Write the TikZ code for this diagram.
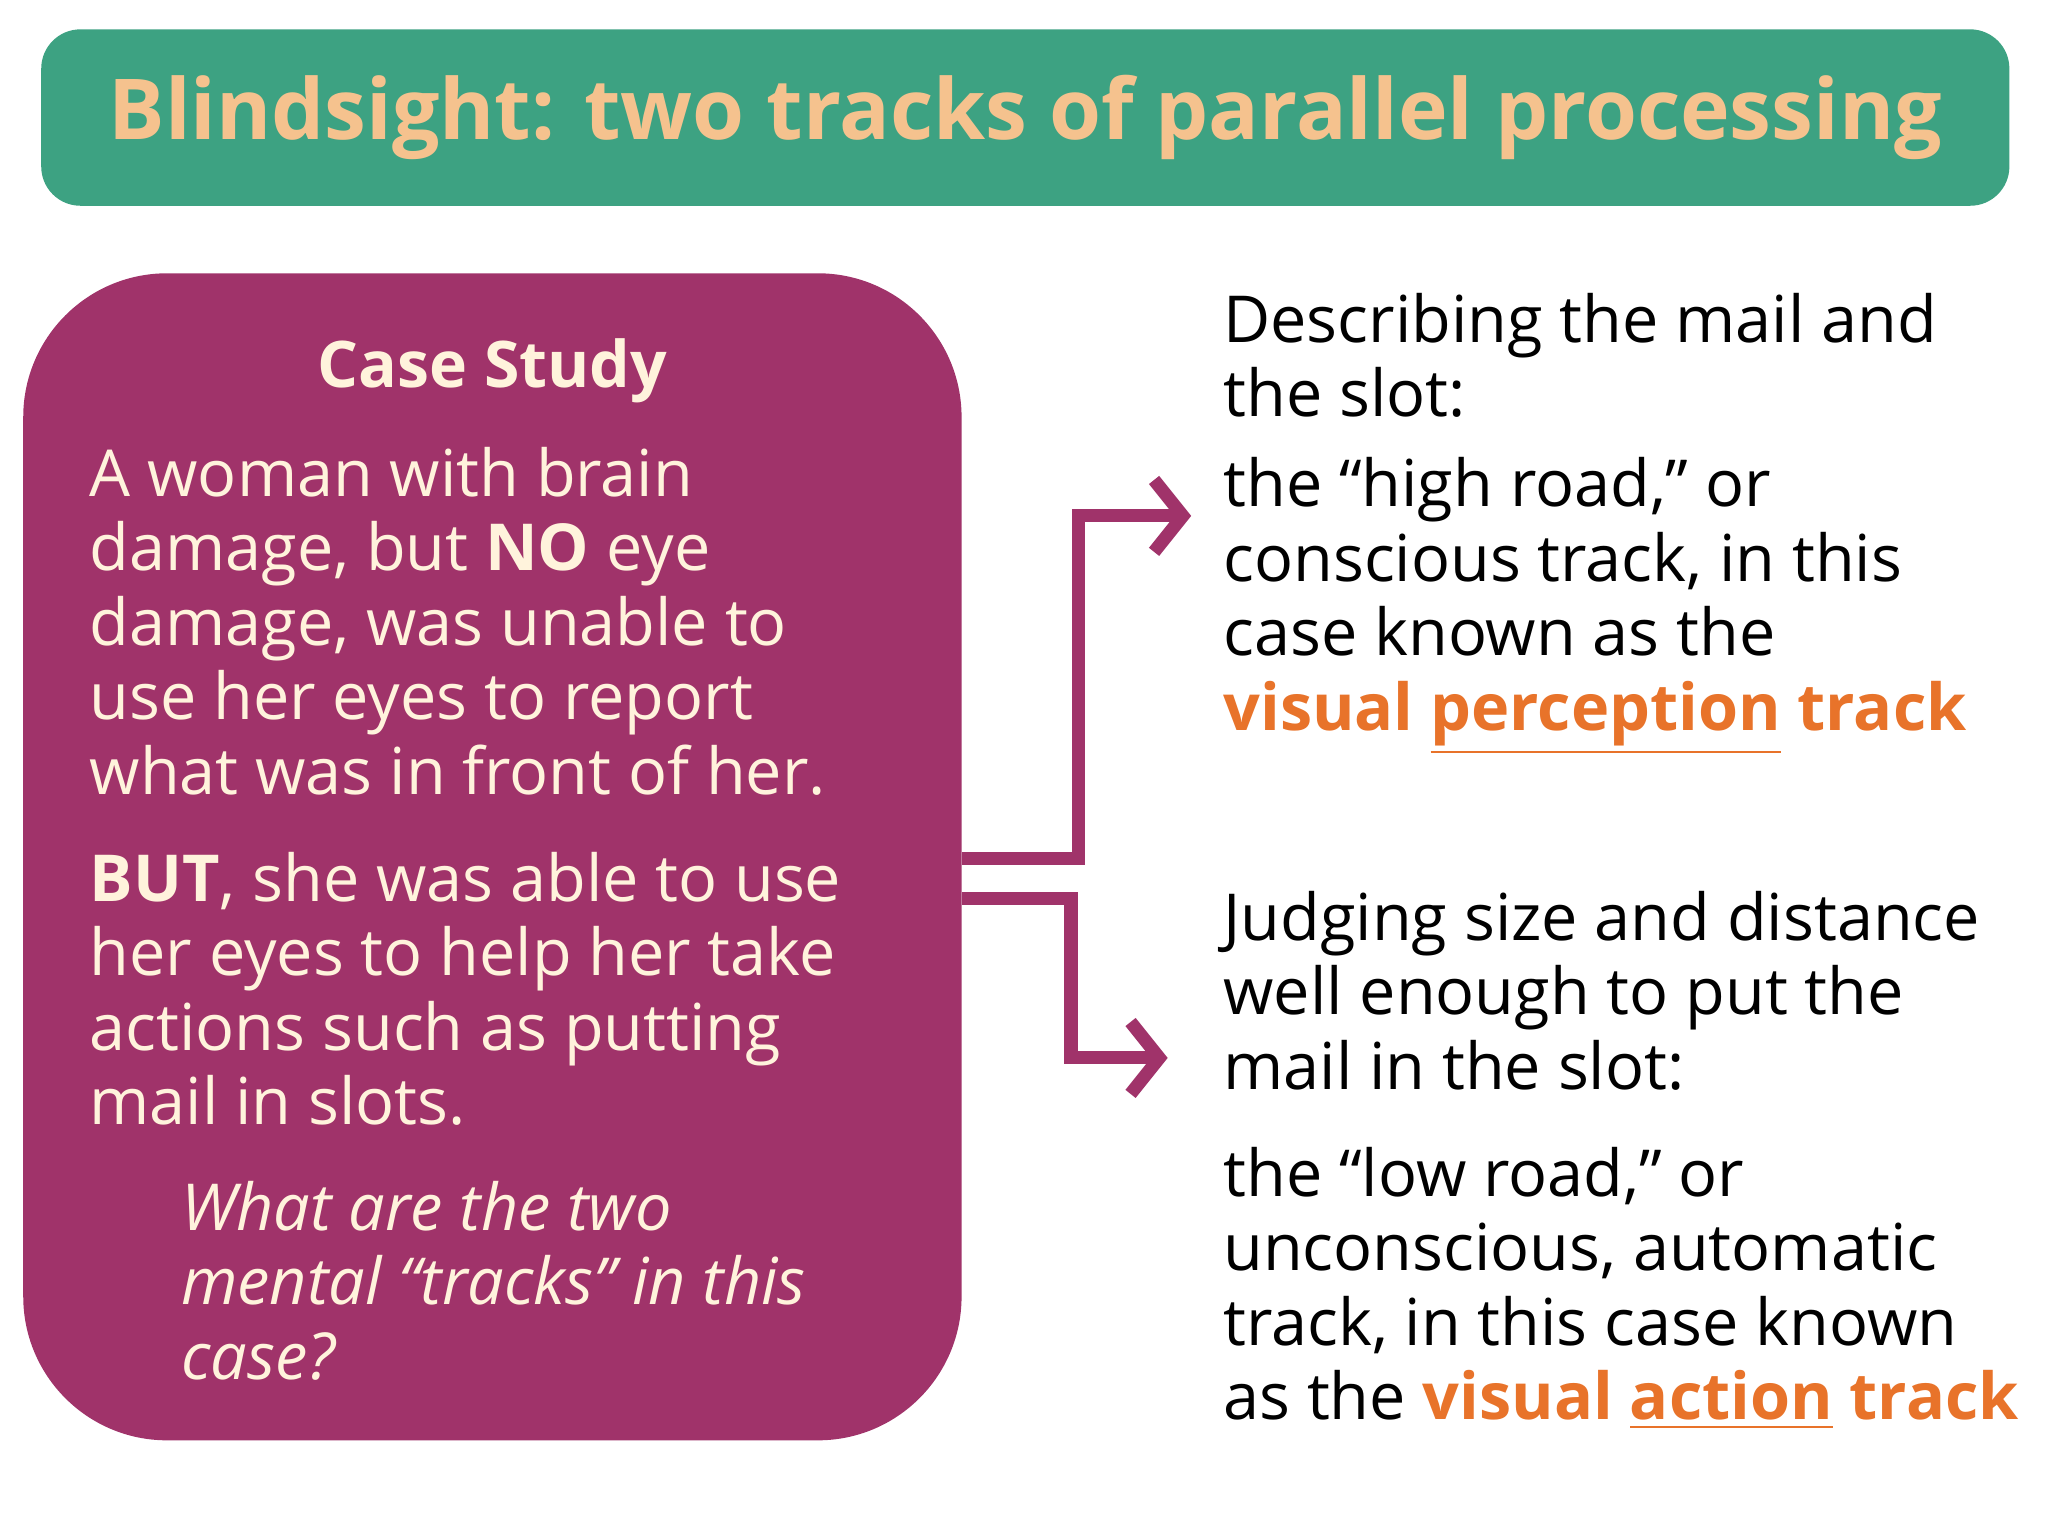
\documentclass[tikz,border=0pt]{standalone}
\usepackage{fontspec}
\setmainfont{Open Sans}
\usepackage{tikz}
\usetikzlibrary{positioning,arrows.meta}
\definecolor{titlegreen}{HTML}{3DA282}
\definecolor{peach}{HTML}{F5C28E}
\definecolor{caseplum}{HTML}{A0336A}
\definecolor{cream}{HTML}{FFF3DC}
\definecolor{trackorange}{HTML}{E8732A}
\tikzset{
  bodytext/.style={anchor=base west, inner sep=0pt, align=left,
    font=\fontsize{14.1}{16.2}\selectfont},
  track/.style={line width=0.1cm, draw=caseplum,
    -{Straight Barb[length=0.22cm,width=0.55cm,line width=0.1cm]}}
}
\newcommand{\trk}[1]{\textcolor{trackorange}{\textbf{visual \underline{#1} track}}}
\begin{document}
\begin{tikzpicture}[x=0.01cm,y=-0.01cm]
  \useasboundingbox (0,0) rectangle (1568,1176);

  % title
  \node[fill=titlegreen, rounded corners=0.3cm, minimum width=15.06cm,
    minimum height=1.35cm, text=peach,
    font=\fontsize{18.3}{22}\selectfont\bfseries] (title) at (785,90)
    {Blindsight: two tracks of parallel processing};

  % case study box
  \node[fill=caseplum, rounded corners=1.1cm, minimum width=7.18cm,
    minimum height=8.93cm] (case) at (377,656) {};
  \begin{scope}[every node/.append style={text=cream}]
    \node[bodytext, anchor=base, font=\fontsize{14}{16}\selectfont\bfseries]
      (casehead) at (377,297) {Case Study};
    \node[bodytext] (woman) at (68,608) {A woman with brain\\
      damage, but \textbf{NO} eye\\ damage, was unable to\\
      use her eyes to report\\ what was in front of her.};
    \node[bodytext] (but) at (68,861) {\textbf{BUT}, she was able to use\\
      her eyes to help her take\\ actions such as putting\\ mail in slots.};
    \node[bodytext, font=\fontsize{14.1}{16.2}\selectfont\itshape]
      (question) at (138,1056) {What are the two\\
      mental “tracks” in this\\ case?};
  \end{scope}

  % right column
  \node[bodytext] (describe) at (936,319) {Describing the mail and\\ the slot:};
  \node[bodytext] (high) at (936,559) {the “high road,” or\\
    conscious track, in this\\ case known as the\\ \trk{perception}};
  \node[bodytext] (judge) at (936,834) {Judging size and distance\\
    well enough to put the\\ mail in the slot:};
  \node[bodytext] (low) at (936,1087) {the “low road,” or\\
    unconscious, automatic\\ track, in this case known\\ as the \trk{action}};

  % connectors
  \coordinate (hightip) at (912,395);
  \coordinate (lowtip) at (894,810);
  \draw[track] (case.east |- 0,657) -- (826,657) |- (hightip);
  \draw[track] (case.east |- 0,688) -- (820,688) |- (lowtip);
\end{tikzpicture}
\end{document}
